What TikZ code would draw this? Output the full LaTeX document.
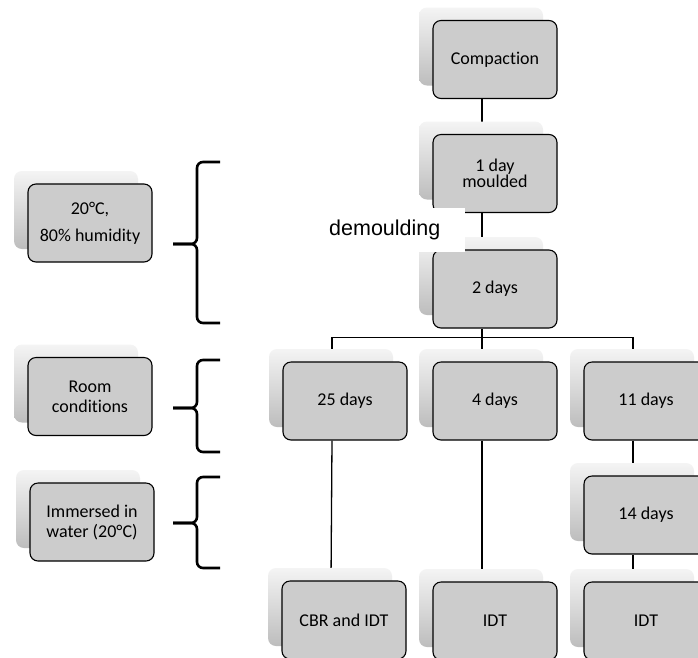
\documentclass[tikz,border=0pt]{standalone}
\usepackage{fontspec}
\setmainfont{Carlito}[Ligatures=CommonOff]
\newfontfamily\arialf{Liberation Sans}
\usetikzlibrary{shadows}
\definecolor{boxgray}{HTML}{CCCCCC}
\definecolor{shtop}{HTML}{F4F4F4}
\definecolor{shbot}{HTML}{BDBDBD}
\pgfdeclarelayer{bglayer}
\pgfdeclarelayer{connlayer}
\pgfsetlayers{bglayer,connlayer,main}
\begin{document}
\begin{tikzpicture}[x=1pt,y=-1pt,
  box/.style={draw=black, line width=1.1pt, fill=boxgray, rounded corners=8pt,
    minimum width=124pt, minimum height=78pt, align=center, inner sep=2pt,
    font=\fontsize{18}{21.6}\selectfont,
    general shadow={shadow xshift=-14pt, shadow yshift=13pt, top color=shtop, bottom color=shbot}},
  conn/.style={line width=1.3pt},
  bracepath/.style={line width=2.6pt, rounded corners=6pt}]
\useasboundingbox (0,0) rectangle (698,657);
\begin{pgfonlayer}{bglayer}
\fill[white] (0,0) rectangle (698,657);
\end{pgfonlayer}

% main column
\node[box] (comp) at (495,59.5) {Compaction};
\node[box, font=\fontsize{18}{15}\selectfont] (day1) at (495,173.5) {1 day\\moulded};
\node[box] (day2) at (495,289) {2 days};
\node[box] (d25) at (345,401) {25 days};
\node[box] (d4) at (495,401) {4 days};
\node[box] (d11) at (646,401) {11 days};
\node[box] (d14) at (646,515) {14 days};
\node[box] (cbr) at (344,620) {CBR and IDT};
\node[box] (idt1) at (495,621) {IDT};
\node[box] (idt2) at (646,621) {IDT};

% left column
\node[box] (hum) at (90,223) {20°C,\\[5pt]80\% humidity};
\node[box, font=\fontsize{18}{20}\selectfont] (room) at (90,396.5) {Room\\conditions};
\node[box, font=\fontsize{18}{20}\selectfont] (water) at (92,522) {Immersed in\\water (20°C)};

% connectors behind the shadows
\begin{pgfonlayer}{connlayer}
\draw[conn] ([xshift=-13pt]comp.south) -- ([xshift=-13pt]day1.north);
\draw[conn] ([xshift=-13pt]day1.south) -- ([xshift=-13pt]day2.north);
\draw[conn] ([xshift=-13pt]day2.south) -- ++(0,9) coordinate (bar);
\draw[conn] ([xshift=-13pt]d25.north) |- (bar) -| ([xshift=-13pt]d11.north);
\draw[conn] (bar) -- ([xshift=-13pt]d4.north);
\draw[conn] ([xshift=-13pt]d25.south) -- ([xshift=-13pt]cbr.north);
\draw[conn] ([xshift=-13pt]d4.south) -- ([xshift=-13pt]idt1.north);
\draw[conn] ([xshift=-13pt]d11.south) -- ([xshift=-13pt]d14.north);
\draw[conn] ([xshift=-13pt]d14.south) -- ([xshift=-13pt]idt2.north);
\end{pgfonlayer}

% demoulding label
\node[fill=white, inner sep=0pt, minimum width=160pt, minimum height=44pt,
  anchor=north east, font=\arialf\fontsize{21.5}{24}\selectfont] (demould) at (465,208) {demoulding};

% braces
\draw[bracepath] (220,162) -- (197,162) -- (197,244) -- (173,244);
\draw[bracepath] (220,323) -- (197,323) -- (197,244) -- (173,244);
\draw[bracepath] (220,360) -- (197,360) -- (197,408) -- (173,408);
\draw[bracepath] (220,452) -- (197,452) -- (197,408) -- (173,408);
\draw[bracepath] (220,477) -- (197,477) -- (197,523) -- (173,523);
\draw[bracepath] (220,568) -- (197,568) -- (197,523) -- (173,523);
\end{tikzpicture}
\end{document}
